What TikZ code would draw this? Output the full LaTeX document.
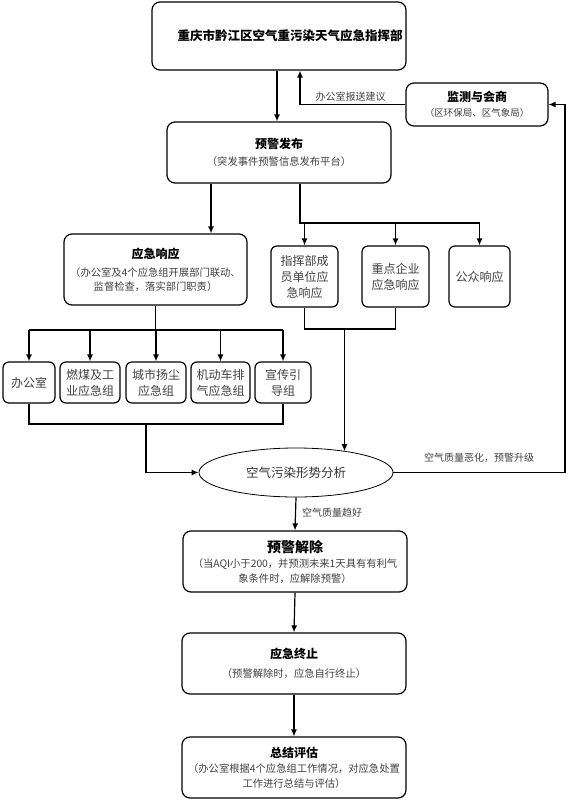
\documentclass[tikz,border=0pt]{standalone}
\usepackage{fontspec}
\setmainfont{Noto Sans CJK SC}
\usetikzlibrary{arrows.meta,shapes.geometric}
\newcommand{\hdfont}{\color{black}\bfseries\fontsize{12}{15}\selectfont}
\newcommand{\bighdfont}{\color{black}\bfseries\fontsize{14}{16}\selectfont}

\begin{document}
\begin{tikzpicture}[x=1pt,y=-1pt,
  box/.style={draw, line width=1.2pt, rounded corners=8pt, align=center, inner sep=2pt,
    text=black!75, font=\fontsize{10.3}{14.5}\selectfont},
  cell/.style={draw, line width=1.2pt, rounded corners=6pt, align=center, inner sep=1pt,
    text=black!75, font=\fontsize{12}{16}\selectfont},
  conn/.style={line width=1.2pt},
  arr/.style={line width=1.2pt, -{Latex[length=7pt,width=6pt]}},
  lbl/.style={font=\fontsize{10}{12}\selectfont, text=black!75, inner sep=1pt}]
  \useasboundingbox (0,0) rectangle (579,805);

  % top of the chain
  \node[box, minimum width=254pt, minimum height=68pt, text=black,
    font=\bfseries\fontsize{12.5}{15}\selectfont] (zhb) at (279,36) {\hspace*{22pt}重庆市黔江区空气重污染天气应急指挥部};
  \node[box, minimum width=224pt, minimum height=61pt] (fabu) at (279,152.5)
    {{\hdfont 预警发布}\\[3pt]（突发事件预警信息发布平台）};
  \node[box, minimum width=142pt, minimum height=43pt] (jiance) at (477,104.5)
    {{\hdfont 监测与会商}\\[1pt]{\fontsize{9.5}{12}\selectfont （区环保局、区气象局）}};

  % responses
  \node[box, minimum width=183pt, minimum height=71pt, font=\fontsize{10.3}{13.5}\selectfont] (xiangying) at (155.5,269.5)
    {{\hdfont 应急响应}\\[5pt]（办公室及4个应急组开展部门联动、\\监督检查，落实部门职责）};
  \node[cell, minimum width=67pt, minimum height=61pt] (zhihui) at (304.5,276.5) {指挥部成\\员单位应\\急响应};
  \node[cell, minimum width=67pt, minimum height=61pt] (qiye) at (395.5,276.5) {重点企业\\应急响应};
  \node[cell, minimum width=61pt, minimum height=61pt] (gongzhong) at (479.5,276.5) {公众响应};

  % groups
  \node[cell, minimum width=52pt, minimum height=41pt] (bgs) at (29,382.5) {办公室};
  \node[cell, minimum width=60pt, minimum height=41pt] (rm) at (90,382.5) {燃煤及工\\业应急组};
  \node[cell, minimum width=60pt, minimum height=41pt] (yc) at (156,382.5) {城市扬尘\\应急组};
  \node[cell, minimum width=59pt, minimum height=41pt] (jdc) at (220.5,382.5) {机动车排\\气应急组};
  \node[cell, minimum width=56pt, minimum height=41pt] (xc) at (283,382.5) {宣传引\\导组};

  \node[ellipse, draw, line width=0.8pt, minimum width=194pt, minimum height=49pt, inner sep=0pt,
    text=black!80, font=\fontsize{12.5}{15}\selectfont] (fenxi) at (296,472.5) {空气污染形势分析};

  % end of the chain
  \node[box, minimum width=224pt, minimum height=61pt] (jiechu) at (295,561.5)
    {{\bighdfont 预警解除}\\[1pt]（当AQI小于200，并预测未来1天具有有利气\\象条件时，应解除预警）};
  \node[box, minimum width=224pt, minimum height=61pt] (zhongzhi) at (294,663.5)
    {{\hdfont 应急终止}\\[4pt]（预警解除时，应急自行终止）};
  \node[box, minimum width=224pt, minimum height=61pt] (pinggu) at (294,767.5)
    {{\hdfont 总结评估}\\[1pt]（办公室根据4个应急组工作情况，对应急处置\\工作进行总结与评估）};

  \coordinate (fork) at (300,223);
  \coordinate (fan) at (155.5,330);
  \coordinate (gather) at (146,424);
  \coordinate (merge) at (344.5,329);
  \coordinate (rt) at (565,472.5);

  \draw[arr] ([xshift=-2pt]zhb.south) -- ([xshift=-2pt]fabu.north);
  \draw[arr] (jiance.west) -| node[lbl, pos=0.26, above=1.5pt] {办公室报送建议} ([xshift=21pt]zhb.south);
  \draw[arr] ([xshift=-68pt]fabu.south) -- ([xshift=-68pt]fabu.south |- xiangying.north);

  \draw[conn] ([xshift=21pt]fabu.south) -- (fork) -- (fork -| gongzhong.north);
  \draw[arr] (fork -| zhihui.north) -- (zhihui.north);
  \draw[arr] (fork -| qiye.north) -- (qiye.north);
  \draw[arr] (fork -| gongzhong.north) -- (gongzhong.north);

  \draw[conn] (xiangying.south) -- (fan);
  \draw[conn] (fan -| bgs.north) -- (fan -| xc.north);
  \draw[arr] (fan -| bgs.north) -- (bgs.north);
  \draw[arr] (fan -| rm.north) -- (rm.north);
  \draw[arr] (fan -| yc.north) -- (yc.north);
  \draw[arr] (fan -| jdc.north) -- (jdc.north);
  \draw[arr] (fan -| xc.north) -- (xc.north);

  \draw[conn] (bgs.south) |- (gather) -| (xc.south);
  \draw[arr] (gather) |- (fenxi.west);
  \draw[conn] (zhihui.south) |- (merge) -| (qiye.south);
  \draw[arr] (merge) -- (merge |- fenxi.23.6);

  \draw[arr] (fenxi.east) -- node[lbl, above=8pt] {空气质量恶化，预警升级} (rt) |- (jiance.east);
  \draw[arr] (fenxi.south) -- node[lbl, right=5pt, pos=0.45] {空气质量趋好} (jiechu.north);
  \draw[arr] (jiechu.south) -- (zhongzhi.north);
  \draw[arr] (zhongzhi.south) -- (pinggu.north);
\end{tikzpicture}
\end{document}
